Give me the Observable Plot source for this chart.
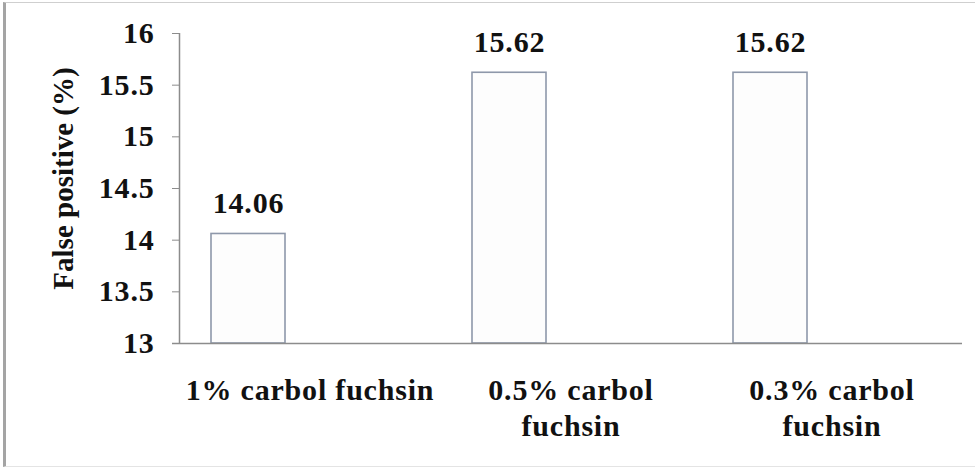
<!DOCTYPE html>
<html>
<head>
<meta charset="utf-8">
<script src="https://cdn.jsdelivr.net/npm/d3@7"></script>
<script src="https://cdn.jsdelivr.net/npm/@observablehq/plot@0.6"></script>
<style>
  html, body { margin: 0; padding: 0; background: #fff; }
  #chart { position: relative; width: 975px; height: 469px; overflow: hidden; }
  #chart::after {
    content: ""; position: absolute; left: 3px; top: 2px; right: -2px; bottom: 2px;
    border-left: 3px solid #a4a4a4; border-top: 1px solid #cfcfcf; border-bottom: 1px solid #e4e4e4;
    pointer-events: none;
  }
  #chart svg { display: block; }
  #chart svg text { font-family: "Liberation Serif", "Times New Roman", serif !important; font-weight: bold; letter-spacing: 0.8px; }
  #chart svg text[transform*="rotate"] { letter-spacing: 0; }
</style>
</head>
<body>
<div id="chart"></div>
<script>
// Categories (stain concentrations) and the false-positive rate for each
const categories = ["1% carbol fuchsin", "0.5% carbol fuchsin", "0.3% carbol fuchsin"];
const categoryLabels = ["1% carbol fuchsin", "0.5% carbol\nfuchsin", "0.3% carbol\nfuchsin"];
const falsePositive = [14.06, 15.62, 15.62];
const yTicks = [13, 13.5, 14, 14.5, 15, 15.5, 16];

const data = categories.map((c, i) => ({category: c, value: falsePositive[i]}));

const width = 975, height = 469;
const marginLeft = 179, marginRight = 13, marginTop = 33, marginBottom = 126;
const band = (width - marginLeft - marginRight) / categories.length;
// each bar sits in the left part of its category slot
const insetLeft = 32, barWidth = 74;
const insetRight = band - insetLeft - barWidth;
const barShift = (insetLeft - insetRight) / 2;

const font = "Liberation Serif, Times New Roman, serif";
const axisColor = "#8c8c8c";

const chart = Plot.plot({
  width, height, marginLeft, marginRight, marginTop, marginBottom,
  style: {fontFamily: font, fontWeight: "bold", fontSize: "30px", color: "#111", background: "#fff"},
  x: {domain: categories, padding: 0, label: null},
  y: {domain: [yTicks[0], yTicks[yTicks.length - 1]], label: null},
  marks: [
    Plot.barY(data, {
      x: "category", y1: yTicks[0], y2: "value",
      insetLeft, insetRight,
      fill: "#fdfdfd", stroke: "#8e98aa", strokeWidth: 1.6
    }),
    Plot.text(data, {
      x: "category", y: "value", text: d => d.value.toFixed(2),
      dx: barShift, dy: -21, lineAnchor: "bottom",
      fontFamily: font, fontSize: 30, fontWeight: "bold", fill: "#111"
    }),
    // vertical value axis line
    Plot.ruleX([categories[0]], {dx: -band / 2, y1: yTicks[0], y2: yTicks[yTicks.length - 1], stroke: axisColor, strokeWidth: 1.5}),
    // horizontal category axis line
    Plot.ruleY([yTicks[0]], {insetLeft: -7, stroke: axisColor, strokeWidth: 1.5}),
    Plot.axisY({
      ticks: yTicks, tickSize: 7, tickPadding: 18, stroke: axisColor,
      tickFormat: d => String(d),
      fontFamily: font, fontSize: 30, fontWeight: "bold", fill: "#111", label: null
    }),
    Plot.axisX({
      tickSize: 0, tickPadding: 30, lineHeight: 1.22,
      tickFormat: c => categoryLabels[categories.indexOf(c)],
      fontFamily: font, fontSize: 30, fontWeight: "bold", fill: "#111", label: null
    }),
    Plot.text(["False positive (%)"], {
      frameAnchor: "left", textAnchor: "middle", dx: -116, dy: -10, rotate: -90, lineAnchor: "middle",
      fontFamily: font, fontSize: 29, fontWeight: "bold", fill: "#111"
    })
  ]
});

document.getElementById("chart").appendChild(chart);
</script>
</body>
</html>
